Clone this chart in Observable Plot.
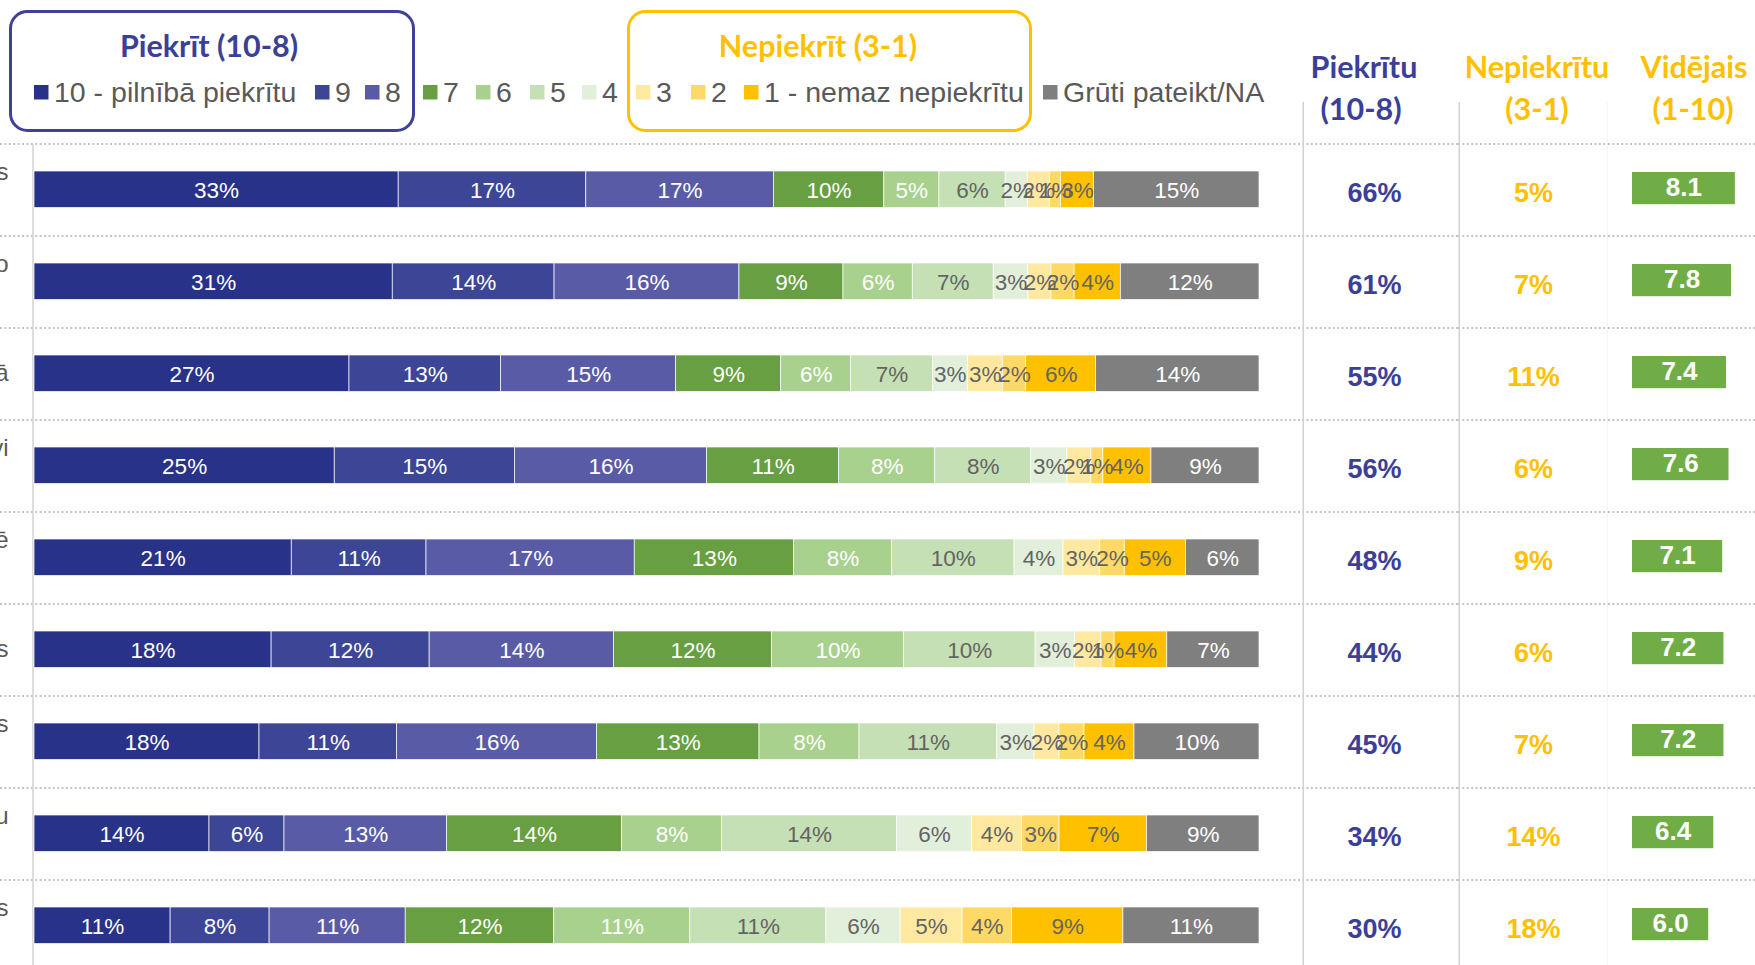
<!DOCTYPE html>
<html>
<head>
<meta charset="utf-8">
<script src="https://cdn.jsdelivr.net/npm/d3@7"></script>
<script src="https://cdn.jsdelivr.net/npm/@observablehq/plot@0.6"></script>
<style>
html, body { margin: 0; padding: 0; background: #fff; overflow: hidden; width: 1755px; height: 965px; }
#wrap { position: relative; width: 1755px; height: 965px; overflow: hidden; }
#panels { position: absolute; left: 0; top: 0; display: flex; }
#panels > svg { flex: none; display: block; max-width: none; }
#hdr { position: absolute; left: 0; top: 0; }
</style>
</head>
<body>
<div id="wrap"><div id="panels"></div></div>
<script>
// ---------------- DATA ----------------
// visible fragments of the (cropped) row labels; "\n" marks a second, hidden line
const rowLabels = ["s\n", "o\n", "ā", "vi\n", "ē\n", "s", "s\n", "u\n", "s\n"];
const categories = ["10", "9", "8", "7", "6", "5", "4", "3", "2", "1", "NA"];
const categoryLabels = ["10 - pilnībā piekrītu", "9", "8", "7", "6", "5", "4", "3", "2", "1 - nemaz nepiekrītu", "Grūti pateikt/NA"];
const v10 = [33, 31, 27, 25, 21, 18, 18, 14, 11];
const v9  = [17, 14, 13, 15, 11, 12, 11, 6, 8];
const v8  = [17, 16, 15, 16, 17, 14, 16, 13, 11];
const v7  = [10, 9, 9, 11, 13, 12, 13, 14, 12];
const v6  = [5, 6, 6, 8, 8, 10, 8, 8, 11];
const v5  = [6, 7, 7, 8, 10, 10, 11, 14, 11];
const v4  = [2, 3, 3, 3, 4, 3, 3, 6, 6];
const v3  = [2, 2, 3, 2, 3, 2, 2, 4, 5];
const v2  = [1, 2, 2, 1, 2, 1, 2, 3, 4];
const v1  = [3, 4, 6, 4, 5, 4, 4, 7, 9];
const vNA = [15, 12, 14, 9, 6, 7, 10, 9, 11];
const agree    = [66, 61, 55, 56, 48, 44, 45, 34, 30];
const disagree = [5, 7, 11, 6, 9, 6, 7, 14, 18];
const meanScore = [8.1, 7.8, 7.4, 7.6, 7.1, 7.2, 7.2, 6.4, 6.0];

// ---------------- STYLE ----------------
const catColors = ["#283289", "#3C4596", "#5A5BA6", "#679F42", "#A9D18E", "#C5E0B4", "#E2EFDA", "#FFE9A1", "#FFD966", "#FFC000", "#7F7F7F"];
const catText   = ["#ffffff", "#ffffff", "#ffffff", "#ffffff", "#ffffff", "#646464", "#646464", "#646464", "#646464", "#646464", "#ffffff"];
const BLUE = "#3C3F97", GOLD = "#FFC000";
const FONT = "'Liberation Sans', Arial, sans-serif";

const series = [v10, v9, v8, v7, v6, v5, v4, v3, v2, v1, vNA];
const ids = d3.range(rowLabels.length);
const long = [];
ids.forEach(i => categories.forEach((c, j) => long.push({row: i, cat: j, value: series[j][i]})));

const H = 965;
const yRange = [140, 975];
const step = (yRange[1] - yRange[0]) / ids.length;
const yOpt = () => ({type: "band", domain: ids, range: yRange, padding: 0, axis: null});
const dotted = {stroke: "#c4c4c4", strokeWidth: 2, strokeDasharray: "2,2.4"};
const vline = {stroke: "#d2d2d2", strokeWidth: 1.5};
const gridY = () => Plot.ruleY(ids, {y: d => d, dy: -step / 2, ...dotted});

// Panel A: stacked bars
const A = Plot.plot({
  width: 1302, height: H, margin: 0,
  style: {fontFamily: FONT, background: "transparent"},
  x: {domain: [0, 1], range: [34, 1259], axis: null},
  y: yOpt(),
  color: {type: "identity"},
  marks: [
    gridY(),
    Plot.ruleX([0], {x: d => d, y1: () => ids[0], y2: () => ids[ids.length - 1], dx: -1.5, ...vline}),
    Plot.barX(long, Plot.stackX({
      x: "value", y: "row", z: "cat", offset: "normalize",
      fill: d => catColors[d.cat], stroke: "#ffffff", strokeWidth: 0.7,
      insetTop: 27, insetBottom: 28.5
    })),
    Plot.text(long, Plot.stackX({
      x: "value", y: "row", z: "cat", offset: "normalize",
      text: d => d.value + "%", fill: d => catText[d.cat],
      fontSize: 22.5, dy: 0
    })),
    Plot.text(ids, {
      y: d => d, text: d => rowLabels[d], frameAnchor: "left", dx: 8, dy: -4.5,
      textAnchor: "end", fontSize: 24, fill: "#595959", lineHeight: 1.4
    })
  ]
});

// Panel B: agree %
const B = Plot.plot({
  width: 156, height: H, margin: 0,
  style: {fontFamily: FONT, background: "transparent"},
  x: {domain: [0, 1], range: [0.75, 156], axis: null},
  y: yOpt(),
  marks: [
    gridY(),
    Plot.ruleX([0], {x: d => d, y1: () => ids[0], y2: () => ids[ids.length - 1], insetTop: -42, ...vline}),
    Plot.text(ids, {y: d => d, text: d => agree[d] + "%", frameAnchor: "middle", dx: -6, dy: 3,
      fill: BLUE, fontWeight: "bold", fontSize: 27})
  ]
});

// Panel C: disagree %
const C = Plot.plot({
  width: 150, height: H, margin: 0,
  style: {fontFamily: FONT, background: "transparent"},
  x: {domain: [0, 1], range: [0.75, 150], axis: null},
  y: yOpt(),
  marks: [
    gridY(),
    Plot.ruleX([0, 1], {x: d => d, y1: () => ids[0], y2: () => ids[ids.length - 1], insetTop: -42, ...vline}),
    Plot.text(ids, {y: d => d, text: d => disagree[d] + "%", frameAnchor: "middle", dx: 0, dy: 3,
      fill: GOLD, fontWeight: "bold", fontSize: 27})
  ]
});

// Panel D: mean score boxes
const D = Plot.plot({
  width: 147, height: H, margin: 0,
  style: {fontFamily: FONT, background: "transparent"},
  x: {domain: [0, 10], range: [24, 151], axis: null},
  y: yOpt(),
  marks: [
    gridY(),
    Plot.barX(ids, {x: d => meanScore[d], y: d => d, fill: "#70AD47", insetTop: 28, insetBottom: 31.8}),
    Plot.text(ids, {x: d => meanScore[d] / 2, y: d => d, text: d => meanScore[d].toFixed(1),
      fill: "#ffffff", fontWeight: "bold", fontSize: 26, dy: -2.5})
  ]
});

const panels = document.getElementById("panels");
[A, B, C, D].forEach(p => panels.appendChild(p));

// ---------------- HEADER (legend + column titles) ----------------
const hdr = d3.select("#wrap").append("svg").attr("id", "hdr").attr("width", 1755).attr("height", 140);
const titleFont = "Lato, 'Open Sans', sans-serif";

// legend frames
hdr.append("rect").attr("x", 10.5).attr("y", 11.5).attr("width", 403).attr("height", 119).attr("rx", 17)
  .attr("fill", "none").attr("stroke", "#3F4198").attr("stroke-width", 3);
hdr.append("rect").attr("x", 628.5).attr("y", 11.5).attr("width", 402).attr("height", 119).attr("rx", 17)
  .attr("fill", "none").attr("stroke", GOLD).attr("stroke-width", 3);

const titles = [
  {x: 209, y: 57, t: "Piekrīt (10-8)", c: BLUE},
  {x: 818, y: 57, t: "Nepiekrīt (3-1)", c: GOLD},
  {x: 1364, y: 78, t: "Piekrītu", c: BLUE},
  {x: 1361, y: 120, t: "(10-8)", c: BLUE},
  {x: 1537, y: 78, t: "Nepiekrītu", c: GOLD},
  {x: 1537, y: 120, t: "(3-1)", c: GOLD},
  {x: 1694, y: 78, t: "Vidējais", c: GOLD},
  {x: 1693, y: 120, t: "(1-10)", c: GOLD}
];
hdr.selectAll("text.ttl").data(titles).join("text").attr("class", "ttl")
  .attr("x", d => d.x).attr("y", d => d.y).attr("text-anchor", "middle")
  .attr("font-family", titleFont).attr("font-weight", 700).attr("font-size", 30.5)
  .attr("fill", d => d.c).text(d => d.t);

// legend entries
const legendX = [34, 315, 365, 423, 476, 530, 582, 636, 691, 744, 1043];
const lg = hdr.selectAll("g.lg").data(categories).join("g").attr("class", "lg")
  .attr("transform", (d, i) => `translate(${legendX[i]},0)`);
lg.append("rect").attr("x", 0).attr("y", 85).attr("width", 14.5).attr("height", 14.5)
  .attr("fill", (d, i) => catColors[i]);
lg.append("text").attr("x", 20).attr("y", 102).attr("font-family", FONT).attr("font-size", 28.5)
  .attr("fill", "#595959").text((d, i) => categoryLabels[i]);
</script>
</body>
</html>
